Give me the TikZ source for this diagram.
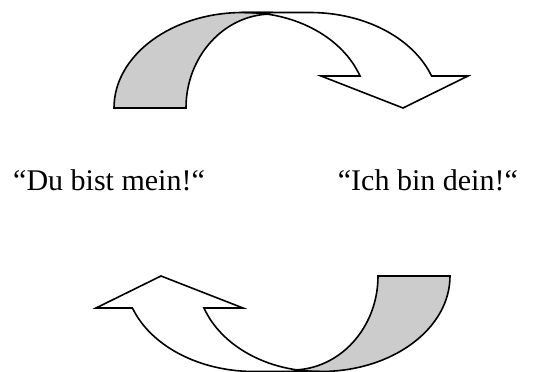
\documentclass[tikz,border=0pt]{standalone}
\usepackage{fontspec}
\setmainfont{Liberation Serif}
\definecolor{shade}{RGB}{204,204,204}
\tikzset{
  arrowline/.style={draw=black, line width=1.6pt, line join=miter},
  backpart/.style={arrowline, fill=shade},
  frontpart/.style={arrowline, fill=white},
  saying/.style={inner sep=0pt, font=\fontsize{30}{35}\selectfont}
}
\newcommand\mycurvedarrow{%
  \path[backpart] (114,108) arc[start angle=180, end angle=270, x radius=129, y radius=95.5]
    -- (272,12.5) -- (272,14) arc[start angle=270, end angle=180, x radius=86, y radius=94] -- cycle;
  \path[frontpart] (245,12.5) -- (310,12.5)
    arc[start angle=270, end angle=340.4, x radius=129, y radius=95.5]
    -- (468,76) -- (403,108) -- (321,76) -- (360,76)
    arc[start angle=340.4, end angle=270, x radius=122, y radius=95.5] -- cycle;
}
\begin{document}
\begin{tikzpicture}[x=1pt,y=-1pt]
\useasboundingbox (0,0) rectangle (560,372);
\mycurvedarrow
\begin{scope}[shift={(564,384)}, xscale=-1, yscale=-1]
\mycurvedarrow
\end{scope}
\node[saying, anchor=base west] (du) at (13,190) {“Du bist mein!“};
\node[saying, anchor=base east] (ich) at (518,190) {“Ich bin dein!“};
\end{tikzpicture}
\end{document}
